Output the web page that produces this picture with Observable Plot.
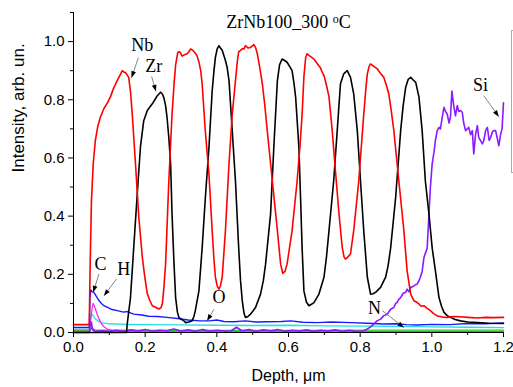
<!DOCTYPE html>
<html><head><meta charset="utf-8">
<script src="https://cdn.jsdelivr.net/npm/d3@7"></script>
<script src="https://cdn.jsdelivr.net/npm/@observablehq/plot@0.6"></script>
<style>body{margin:0;background:#fff}</style>
</head><body><div id="chart"></div>
<script>
const titleText = "ZrNb100_300 oC";
const xLabel = "Depth, \u03bcm";
const yLabel = "Intensity, arb. un.";
const xTicks = [0, 0.2, 0.4, 0.6, 0.8, 1.0, 1.2];
const xMinor = [0.1, 0.3, 0.5, 0.7, 0.9, 1.1];
const yTicks = [0, 0.2, 0.4, 0.6, 0.8, 1.0];
const yMinor = [0.1, 0.3, 0.5, 0.7, 0.9, 1.1];

const nb = [[0,0.027],[0.044,0.027],[0.046,0.2],[0.05,0.45],[0.055,0.58],[0.061,0.66],[0.068,0.71],[0.075,0.74],[0.085,0.77],[0.095,0.79],[0.103,0.81],[0.112,0.84],[0.122,0.866],[0.13,0.885],[0.136,0.9],[0.141,0.895],[0.145,0.894],[0.15,0.885],[0.154,0.877],[0.159,0.83],[0.164,0.75],[0.173,0.58],[0.182,0.4],[0.192,0.26],[0.199,0.19],[0.206,0.133],[0.213,0.11],[0.22,0.092],[0.23,0.086],[0.238,0.081],[0.244,0.085],[0.248,0.099],[0.252,0.15],[0.257,0.235],[0.266,0.52],[0.275,0.75],[0.281,0.86],[0.285,0.92],[0.291,0.963],[0.297,0.965],[0.303,0.95],[0.31,0.955],[0.317,0.958],[0.322,0.965],[0.327,0.975],[0.333,0.97],[0.34,0.96],[0.345,0.95],[0.35,0.93],[0.355,0.9],[0.359,0.855],[0.368,0.69],[0.378,0.545],[0.387,0.35],[0.392,0.25],[0.396,0.19],[0.401,0.16],[0.406,0.149],[0.41,0.16],[0.415,0.19],[0.424,0.35],[0.434,0.58],[0.443,0.75],[0.452,0.866],[0.457,0.93],[0.461,0.965],[0.466,0.97],[0.471,0.975],[0.476,0.975],[0.48,0.986],[0.487,0.978],[0.494,0.98],[0.499,0.985],[0.503,0.99],[0.508,0.98],[0.513,0.958],[0.52,0.91],[0.527,0.855],[0.534,0.78],[0.541,0.69],[0.555,0.52],[0.569,0.35],[0.578,0.235],[0.584,0.203],[0.59,0.21],[0.596,0.235],[0.61,0.35],[0.624,0.52],[0.632,0.64],[0.638,0.75],[0.643,0.88],[0.648,0.946],[0.652,0.958],[0.66,0.95],[0.671,0.94],[0.68,0.925],[0.689,0.91],[0.694,0.895],[0.699,0.883],[0.706,0.85],[0.713,0.81],[0.722,0.694],[0.731,0.556],[0.741,0.407],[0.75,0.292],[0.755,0.26],[0.759,0.252],[0.766,0.26],[0.773,0.27],[0.782,0.35],[0.796,0.52],[0.81,0.75],[0.816,0.84],[0.82,0.889],[0.825,0.915],[0.829,0.923],[0.838,0.915],[0.848,0.906],[0.857,0.89],[0.866,0.877],[0.873,0.85],[0.88,0.82],[0.887,0.76],[0.894,0.694],[0.908,0.52],[0.922,0.35],[0.931,0.212],[0.941,0.132],[0.95,0.109],[0.959,0.103],[0.964,0.098],[0.97,0.09],[0.978,0.092],[0.987,0.083],[0.996,0.075],[1.005,0.065],[1.015,0.057],[1.03,0.053],[1.043,0.052],[1.06,0.055],[1.08,0.054],[1.1,0.052],[1.127,0.05],[1.15,0.052],[1.17,0.051],[1.2,0.052]];

const zr = [[0,0],[0.148,0],[0.15,0.03],[0.159,0.12],[0.168,0.29],[0.177,0.46],[0.187,0.64],[0.196,0.728],[0.206,0.763],[0.213,0.775],[0.22,0.786],[0.227,0.8],[0.234,0.814],[0.243,0.826],[0.248,0.82],[0.252,0.808],[0.257,0.78],[0.261,0.74],[0.266,0.67],[0.271,0.58],[0.275,0.407],[0.28,0.25],[0.285,0.12],[0.29,0.07],[0.294,0.052],[0.301,0.045],[0.308,0.04],[0.313,0.034],[0.322,0.036],[0.331,0.04],[0.336,0.055],[0.34,0.075],[0.35,0.143],[0.359,0.29],[0.368,0.464],[0.378,0.636],[0.387,0.83],[0.392,0.9],[0.396,0.946],[0.401,0.975],[0.406,0.986],[0.41,0.978],[0.415,0.97],[0.424,0.935],[0.429,0.91],[0.434,0.866],[0.443,0.694],[0.452,0.52],[0.461,0.29],[0.466,0.18],[0.471,0.109],[0.476,0.065],[0.48,0.052],[0.487,0.055],[0.494,0.063],[0.508,0.086],[0.522,0.132],[0.53,0.18],[0.536,0.235],[0.55,0.407],[0.559,0.636],[0.569,0.866],[0.575,0.92],[0.582,0.94],[0.589,0.935],[0.596,0.929],[0.603,0.915],[0.61,0.9],[0.615,0.86],[0.62,0.808],[0.629,0.636],[0.634,0.45],[0.638,0.29],[0.643,0.143],[0.65,0.105],[0.657,0.092],[0.664,0.097],[0.671,0.103],[0.685,0.132],[0.699,0.19],[0.706,0.26],[0.713,0.35],[0.726,0.52],[0.736,0.694],[0.745,0.855],[0.754,0.889],[0.764,0.9],[0.773,0.877],[0.782,0.82],[0.792,0.694],[0.801,0.52],[0.81,0.35],[0.82,0.19],[0.829,0.132],[0.836,0.133],[0.843,0.138],[0.857,0.155],[0.871,0.19],[0.878,0.23],[0.885,0.29],[0.899,0.464],[0.913,0.694],[0.92,0.78],[0.927,0.843],[0.934,0.87],[0.941,0.877],[0.948,0.868],[0.955,0.86],[0.964,0.81],[0.973,0.694],[0.982,0.52],[0.992,0.407],[1.001,0.29],[1.01,0.212],[1.02,0.12],[1.027,0.09],[1.034,0.069],[1.043,0.058],[1.052,0.052],[1.065,0.045],[1.08,0.04],[1.1,0.036],[1.127,0.034],[1.16,0.032],[1.2,0.031]];

const si = [[0,0],[0.044,0],[0.047,0.03],[0.05,0.035],[0.053,0.01],[0.06,0.004],[0.08,0.006],[0.1,0.004],[0.12,0.008],[0.14,0.004],[0.16,0.009],[0.18,0.005],[0.2,0.01],[0.22,0.004],[0.24,0.008],[0.26,0.006],[0.28,0.012],[0.3,0.005],[0.32,0.009],[0.34,0.004],[0.36,0.01],[0.38,0.005],[0.4,0.008],[0.42,0.005],[0.44,0.006],[0.455,0.018],[0.47,0.006],[0.49,0.01],[0.51,0.004],[0.53,0.009],[0.55,0.006],[0.57,0.01],[0.59,0.004],[0.61,0.008],[0.63,0.005],[0.65,0.009],[0.67,0.004],[0.69,0.008],[0.71,0.005],[0.73,0.009],[0.75,0.004],[0.77,0.008],[0.79,0.004],[0.81,0.006],[0.82,0.012],[0.83,0.02],[0.838,0.029],[0.847,0.04],[0.857,0.046],[0.866,0.058],[0.876,0.063],[0.885,0.08],[0.894,0.086],[0.899,0.1],[0.903,0.103],[0.908,0.115],[0.913,0.12],[0.92,0.135],[0.927,0.138],[0.931,0.149],[0.936,0.14],[0.941,0.155],[0.95,0.16],[0.955,0.165],[0.959,0.166],[0.964,0.178],[0.968,0.19],[0.973,0.21],[0.978,0.258],[0.987,0.29],[0.992,0.407],[0.996,0.5],[1.001,0.58],[1.006,0.62],[1.01,0.66],[1.015,0.694],[1.02,0.705],[1.024,0.7],[1.029,0.74],[1.034,0.774],[1.038,0.76],[1.043,0.751],[1.048,0.72],[1.052,0.74],[1.056,0.83],[1.061,0.78],[1.066,0.745],[1.071,0.78],[1.075,0.76],[1.08,0.763],[1.085,0.757],[1.089,0.72],[1.094,0.694],[1.099,0.7],[1.103,0.705],[1.108,0.68],[1.113,0.694],[1.117,0.614],[1.122,0.68],[1.127,0.711],[1.131,0.67],[1.136,0.66],[1.141,0.648],[1.145,0.66],[1.15,0.694],[1.155,0.705],[1.16,0.66],[1.164,0.67],[1.169,0.69],[1.173,0.694],[1.178,0.694],[1.184,0.66],[1.187,0.642],[1.192,0.682],[1.196,0.7],[1.2,0.79]];

const h = [[0,0.017],[0.044,0.017],[0.046,0.12],[0.048,0.146],[0.052,0.14],[0.057,0.138],[0.062,0.128],[0.066,0.12],[0.072,0.108],[0.078,0.1],[0.085,0.092],[0.095,0.086],[0.105,0.08],[0.122,0.075],[0.14,0.07],[0.15,0.072],[0.168,0.063],[0.19,0.06],[0.21,0.056],[0.235,0.055],[0.261,0.052],[0.29,0.048],[0.32,0.043],[0.354,0.04],[0.38,0.04],[0.4,0.043],[0.42,0.038],[0.447,0.037],[0.48,0.04],[0.51,0.036],[0.54,0.037],[0.58,0.038],[0.606,0.04],[0.64,0.035],[0.68,0.034],[0.72,0.036],[0.773,0.034],[0.82,0.032],[0.866,0.029],[0.9,0.03],[0.93,0.027],[0.959,0.026],[1.0,0.028],[1.05,0.027],[1.1,0.031],[1.15,0.03],[1.2,0.033]];

const c = [[0,0.004],[0.045,0.004],[0.048,0.04],[0.052,0.085],[0.055,0.1],[0.06,0.085],[0.066,0.063],[0.072,0.045],[0.078,0.03],[0.085,0.02],[0.094,0.012],[0.11,0.006],[0.15,0.004],[0.3,0.003],[0.6,0.003],[0.9,0.002],[1.2,0.002]];

const o = [[0,0.011],[0.044,0.011],[0.046,0.05],[0.05,0.065],[0.055,0.058],[0.06,0.048],[0.07,0.038],[0.08,0.033],[0.1,0.03],[0.15,0.028],[0.2,0.027],[0.3,0.026],[0.4,0.025],[0.5,0.024],[0.6,0.025],[0.7,0.023],[0.8,0.022],[0.9,0.021],[1.0,0.019],[1.1,0.018],[1.2,0.017]];

const nGreen = [[0,0.006],[0.045,0.006],[0.048,0.02],[0.052,0.014],[0.06,0.009],[0.1,0.008],[0.3,0.007],[0.6,0.007],[0.9,0.008],[1.2,0.008]];

const nDark = [[0,0.002],[0.045,0.002],[0.05,0.015],[0.056,0.005],[0.1,0.002],[1.2,0.003]];

const series = [
  {name: "O", pts: o, color: "#22e0e0", w: 1.3},
  {name: "N", pts: nGreen, color: "#22cc22", w: 1.3},
  {name: "Ndark", pts: nDark, color: "#335533", w: 1},
  {name: "C", pts: c, color: "#ff22ff", w: 1.3},
  {name: "H", pts: h, color: "#1a1aff", w: 1.4},
  {name: "Si", pts: si, color: "#8a1aff", w: 1.6},
  {name: "Zr", pts: zr, color: "#000000", w: 1.6},
  {name: "Nb", pts: nb, color: "#ff0000", w: 1.6}
];

const labelText = ["Nb", "Zr", "Si", "C", "H", "O", "N"];
const labelX = [0.192, 0.224, 1.136, 0.075, 0.14, 0.406, 0.84];
const labelY = [0.986, 0.917, 0.849, 0.236, 0.218, 0.12, 0.084];
const arrowX1 = [0.181, 0.218, 1.145, 0.071, 0.12, 0.392, 0.862];
const arrowY1 = [0.945, 0.88, 0.814, 0.201, 0.184, 0.08, 0.075];
const arrowX2 = [0.162, 0.23, 1.187, 0.055, 0.085, 0.373, 0.922];
const arrowY2 = [0.876, 0.829, 0.742, 0.138, 0.126, 0.04, 0.017];

const labels = labelText.map((t, i) => ({t, x: labelX[i], y: labelY[i], x1: arrowX1[i], y1: arrowY1[i], x2: arrowX2[i], y2: arrowY2[i]}));

const filledHead = (color, context) => d3.create("svg:marker")
  .attr("viewBox", "-7 -4 8 8")
  .attr("markerUnits", "userSpaceOnUse")
  .attr("markerWidth", 8)
  .attr("markerHeight", 8)
  .attr("orient", "auto")
  .attr("fill", "#000")
  .attr("stroke", "none")
  .call(m => m.append("path").attr("d", "M-6.5,-2.4L0,0L-6.5,2.4Z"))
  .node();

const lineMarks = series.map(s => Plot.line(s.pts, {x: d => d[0], y: d => d[1], stroke: s.color, strokeWidth: s.w, curve: "linear"}));

const serif = "'Liberation Serif', 'Times New Roman', serif";

const svg = Plot.plot({
  width: 513, height: 387,
  marginLeft: 73, marginRight: 10, marginTop: 12, marginBottom: 55,
  x: {domain: [0, 1.2]},
  y: {domain: [0, 1.1]},
  style: {fontFamily: "'Liberation Sans', Arial, sans-serif", fontSize: "15px", color: "#000", background: "#fff"},
  marks: [
    ...lineMarks,
    Plot.ruleY([0], {stroke: "#000", strokeWidth: 1}),
    Plot.ruleX([0], {y1: 0, y2: 1.1, stroke: "#000", strokeWidth: 1}),
    Plot.axisX({ticks: xTicks, tickSize: 5, tickPadding: 4, tickFormat: d => d.toFixed(1), label: null}),
    Plot.axisX({ticks: xMinor, tickSize: 3, fill: "none", label: null}),
    Plot.axisY({ticks: yTicks, tickSize: 5, tickPadding: 4, tickFormat: d => d.toFixed(1), label: null}),
    Plot.axisY({ticks: yMinor, tickSize: 3, fill: "none", label: null}),
    Plot.link(labels, {x1: "x1", y1: "y1", x2: "x2", y2: "y2", stroke: "#666", strokeWidth: 0.8, markerEnd: filledHead}),
    Plot.text(labels, {x: "x", y: "y", text: "t", fontFamily: serif, fontSize: 18, fill: "#000"}),
    Plot.text([titleText], {frameAnchor: "top", dy: 10, lineAnchor: "middle", text: d => d, fontFamily: serif, fontSize: 18, fill: "#000"}),
    Plot.text([xLabel], {frameAnchor: "bottom", dy: 43, lineAnchor: "middle", text: d => d, fontSize: 16, fill: "#000"}),
    Plot.text([yLabel], {frameAnchor: "left", dx: -55, rotate: -90, text: d => d, fontSize: 17, fill: "#000"})
  ]
});

// superscript "o" in the title
d3.select(svg).selectAll("text").filter(function() { return this.textContent === titleText; }).each(function() {
  const t = d3.select(this);
  t.text(null);
  t.append("tspan").text("ZrNb100_300 ");
  t.append("tspan").attr("font-size", 12).attr("dy", -5.5).text("o");
  t.append("tspan").attr("dy", 5.5).text("C");
});
// partially visible legend frame at the right edge
d3.select(svg).append("rect").attr("x", 511.5).attr("y", 30.5).attr("width", 20).attr("height", 142)
  .attr("fill", "none").attr("stroke", "#aaa").attr("stroke-width", 1);

document.getElementById("chart").appendChild(svg);
</script>
</body></html>
